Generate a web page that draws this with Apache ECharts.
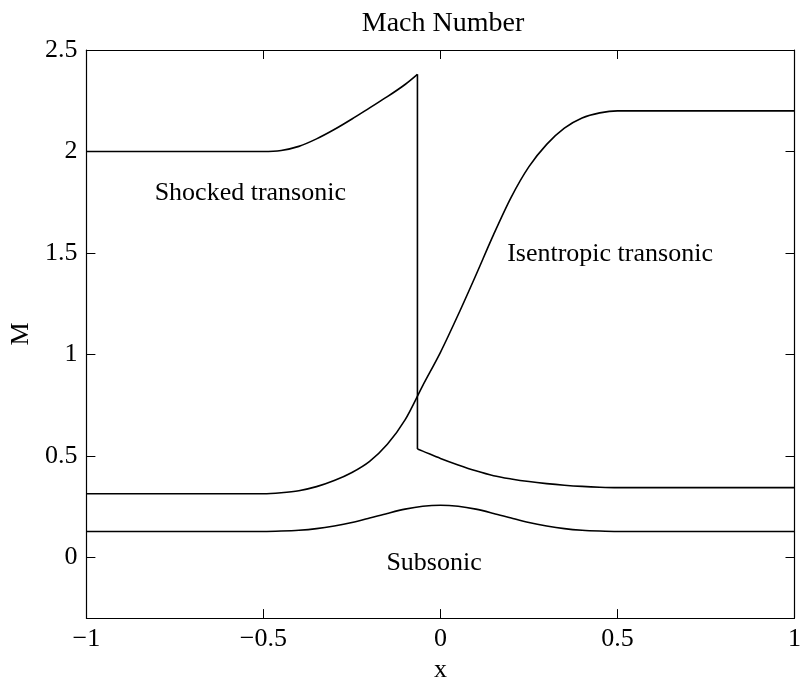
<!DOCTYPE html>
<html>
<head>
<meta charset="utf-8">
<script src="https://cdn.jsdelivr.net/npm/echarts@6/dist/echarts.min.js"></script>
<style>html,body{margin:0;padding:0;background:#fff}#c{width:804px;height:688px}</style>
</head>
<body>
<div id="c"></div>
<script>
const titleText = 'Mach Number';
const xName = 'x';
const yName = 'M';
const xTicks = [-1, -0.5, 0, 0.5, 1];
const yTicks = [0, 0.5, 1, 1.5, 2, 2.5];

const subX = [-1, -0.5, -0.45, -0.4, -0.35, -0.3, -0.25, -0.2, -0.15, -0.1, -0.05, 0, 0.05, 0.1, 0.15, 0.2, 0.25, 0.3, 0.35, 0.4, 0.45, 0.5, 1];
const subM = [0.127, 0.127, 0.129, 0.133, 0.141, 0.154, 0.171, 0.193, 0.216, 0.237, 0.251, 0.256, 0.251, 0.237, 0.216, 0.193, 0.171, 0.154, 0.141, 0.133, 0.129, 0.127, 0.127];

const isoX = [-1, -0.5, -0.45, -0.4, -0.35, -0.3, -0.25, -0.2, -0.15, -0.1, -0.05, 0, 0.05, 0.1, 0.15, 0.2, 0.25, 0.3, 0.35, 0.4, 0.45, 0.5, 1];
const isoM = [0.313, 0.313, 0.318, 0.328, 0.348, 0.378, 0.418, 0.473, 0.557, 0.677, 0.846, 1.01, 1.195, 1.39, 1.59, 1.775, 1.925, 2.035, 2.115, 2.165, 2.19, 2.2, 2.2];

// shocked transonic: supersonic branch up to the shock, then subsonic branch
const shkPreX = [-1, -0.5, -0.45, -0.4, -0.35, -0.3, -0.25, -0.2, -0.15, -0.1, -0.065];
const shkPreM = [2.0, 2.0, 2.005, 2.025, 2.062, 2.108, 2.16, 2.215, 2.27, 2.33, 2.38];
const shkPostX = [-0.065, -0.05, 0, 0.05, 0.1, 0.15, 0.2, 0.25, 0.3, 0.35, 0.4, 0.45, 0.5, 1];
const shkPostM = [0.533, 0.523, 0.487, 0.455, 0.426, 0.402, 0.386, 0.373, 0.363, 0.355, 0.349, 0.345, 0.343, 0.343];

const noteText = ['Shocked transonic', 'Isentropic transonic', 'Subsonic'];
const noteX = [-0.537, 0.479, -0.018];
const noteM = [1.795, 1.495, -0.03];

const zip = (xs, ys) => xs.map((x, i) => [x, ys[i]]);
const FONT = 'Liberation Serif';
const minus = v => String(v).replace('-', '\u2212');

const lineStyle = { color: '#000', width: 1.6 };
const axisCommon = {
  type: 'value',
  axisLine: { show: true, onZero: false, lineStyle: { color: '#000', width: 1.2 } },
  splitLine: { show: false },
  axisTick: { show: true, inside: true, length: 9, lineStyle: { color: '#000', width: 1 } }
};
const curve = (name, data, smooth) => ({
  type: 'line', name, data, symbol: 'none', lineStyle, silent: true,
  smooth: smooth ? 0.3 : false
});

const chart = echarts.init(document.getElementById('c'), null, { renderer: 'canvas' });
chart.setOption({
  animation: false,
  backgroundColor: '#fff',
  title: {
    text: titleText, left: 438, top: 5, textAlign: 'center',
    textStyle: { fontFamily: FONT, fontSize: 28, fontWeight: 'normal', color: '#000' }
  },
  grid: { left: 73, right: 1, top: 50, bottom: 58, containLabel: false },
  xAxis: [
    Object.assign({}, axisCommon, {
      position: 'bottom', min: -1, max: 1, interval: 0.5,
      name: xName, nameLocation: 'middle', nameGap: 30,
      nameTextStyle: { fontFamily: FONT, fontSize: 26, color: '#000' },
      axisLabel: { show: true, margin: 8, fontFamily: FONT, fontSize: 26, color: '#000',
        formatter: v => xTicks.includes(v) ? minus(v) : '' }
    }),
    Object.assign({}, axisCommon, {
      position: 'top', min: -1, max: 1, interval: 0.5,
      axisLabel: { show: false }
    })
  ],
  yAxis: [
    Object.assign({}, axisCommon, {
      position: 'left', min: -0.3, max: 2.5,
      name: yName, nameLocation: 'middle', nameGap: 38,
      nameTextStyle: { fontFamily: FONT, fontSize: 26, color: '#000' },
      axisTick: Object.assign({}, axisCommon.axisTick, { customValues: yTicks }),
      axisLabel: { show: true, margin: 9, fontFamily: FONT, fontSize: 26, color: '#000',
        customValues: yTicks, formatter: v => minus(v) }
    }),
    Object.assign({}, axisCommon, {
      position: 'right', min: -0.3, max: 2.5,
      axisTick: Object.assign({}, axisCommon.axisTick, { customValues: yTicks }),
      axisLabel: { show: false }
    })
  ],
  series: [
    curve('Shocked transonic', zip(shkPreX, shkPreM), true),
    curve('Shock', [[shkPreX[shkPreX.length - 1], shkPreM[shkPreM.length - 1]], [shkPostX[0], shkPostM[0]]], false),
    curve('Shocked transonic (post)', zip(shkPostX, shkPostM), true),
    curve('Isentropic transonic', zip(isoX, isoM), true),
    curve('Subsonic', zip(subX, subM), true)
  ]
});

// text annotations placed through the chart's own coordinate system
const notes = noteText.map((t, i) => {
  const p = chart.convertToPixel({ gridIndex: 0 }, [noteX[i], noteM[i]]);
  return {
    type: 'text', x: p[0], y: p[1], silent: true,
    style: { text: t, fill: '#000', font: '26px "Liberation Serif"', align: 'center', verticalAlign: 'middle' }
  };
});
chart.setOption({ graphic: notes });
</script>
</body>
</html>
